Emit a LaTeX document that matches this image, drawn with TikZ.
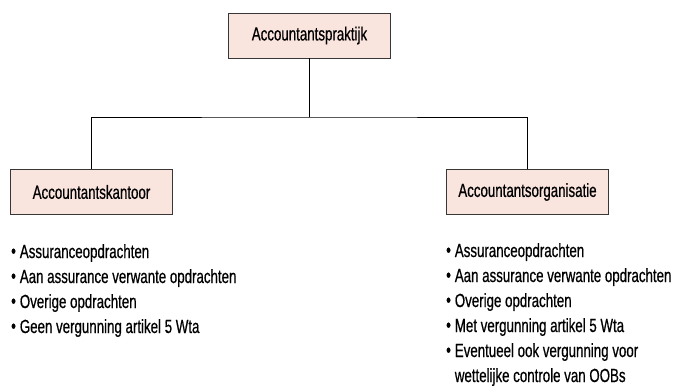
\documentclass[tikz,border=0pt]{standalone}
\usepackage{fontspec}
\setmainfont{Liberation Sans}[FakeStretch=0.7, FakeBold=0.6]
\usepackage{tikz}
\usetikzlibrary{positioning}

\definecolor{boxfill}{RGB}{250,228,222}
\definecolor{boxline}{RGB}{55,55,55}

\tikzset{
	unit/.style={draw=boxline, fill=boxfill, line width=0.9pt, minimum width=162pt, minimum height=45pt, inner sep=0pt, font=\fontsize{19}{22}\selectfont},
	listing/.style={align=left, inner sep=0pt, font=\fontsize{19}{25}\selectfont},
	link/.style={line width=0.9pt, draw=black}
}

\newcommand{\itm}{\raisebox{0.5pt}{\textbullet}\hspace{4pt}}

\begin{document}
\begin{tikzpicture}[x=1pt, y=-1pt]
			\useasboundingbox (0,0) rectangle (675,386);
			\node[unit] (praktijk) at (309.5,35.5) {Accountantspraktijk};
			\node[unit] (kantoor) at (91.5,192) {Accountantskantoor};
			\node[unit] (organisatie) at (527.5,192) {Accountantsorganisatie};
			\coordinate (split) at (309.5,117);
			
			\draw[link]	(praktijk) -- (split);
			\draw[link]	(kantoor.north) |- (split) -| (organisatie.north);
			
			% base anchor sits on the last line
			\node[listing, anchor=base west] (kantoorlijst) at (11,333) {\itm Assuranceopdrachten\\
				\itm Aan assurance verwante opdrachten\\
				\itm Overige opdrachten\\
				\itm Geen vergunning artikel 5 Wta};
			\node[listing, anchor=base west] (organisatielijst) at (446,382) {\itm Assuranceopdrachten\\
				\itm Aan assurance verwante opdrachten\\
				\itm Overige opdrachten\\
				\itm Met vergunning artikel 5 Wta\\
				\itm Eventueel ook vergunning voor\\
				\phantom{\itm}wettelijke controle van OOBs};
		\end{tikzpicture}
\end{document}
